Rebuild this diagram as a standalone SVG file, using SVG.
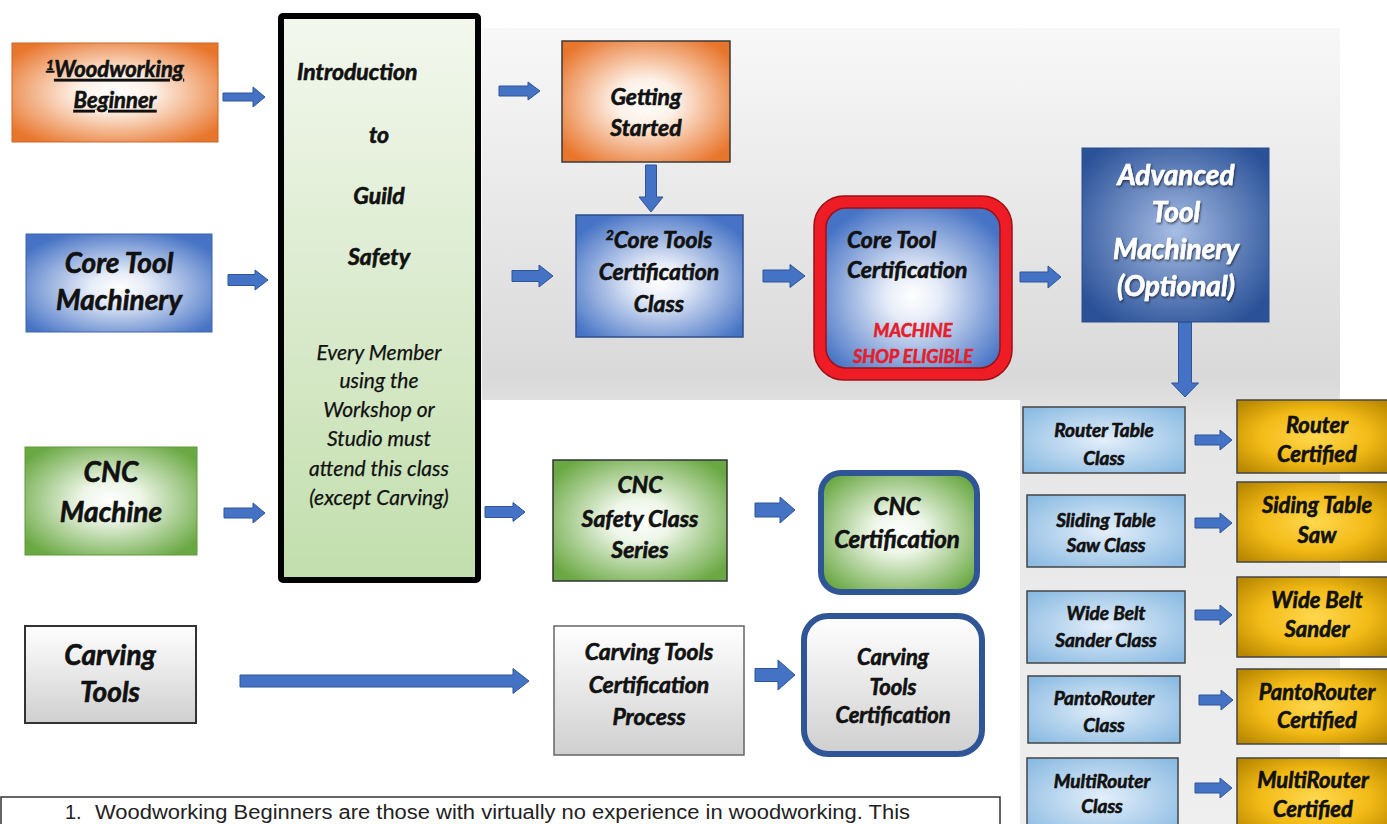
<svg xmlns="http://www.w3.org/2000/svg" width="1387" height="824" viewBox="0 0 1387 824">
<style>
.t{font-family:Lato,'Open Sans','Liberation Sans',sans-serif;font-weight:bold;font-style:italic;fill:#111;stroke:#111;stroke-width:0.6;text-anchor:middle}
.tn{font-family:Lato,'Open Sans','Liberation Sans',sans-serif;font-weight:normal;font-style:italic;fill:#111;stroke:#111;stroke-width:0.25;text-anchor:middle}
.tw{fill:#fff;stroke:#fff}
.tr{fill:#E3202A;stroke:#E3202A}
.arr{fill:#4472C4;stroke:#2F5597;stroke-width:1}
.box{stroke:#444;stroke-width:1.5}
.fn{font-family:'Liberation Sans',Arial,sans-serif;font-size:20px;fill:#222}
</style>
<defs>
<radialGradient id="gOrange" cx="50%" cy="50%" r="62%"><stop offset="0" stop-color="#FFFFFF"/><stop offset="0.3" stop-color="#FDF0E6"/><stop offset="1" stop-color="#E8752C"/></radialGradient>
<radialGradient id="gBlue" cx="50%" cy="55%" r="62%"><stop offset="0" stop-color="#FFFFFF"/><stop offset="0.25" stop-color="#E6ECF8"/><stop offset="1" stop-color="#4673C5"/></radialGradient>
<radialGradient id="gGreen" cx="50%" cy="50%" r="62%"><stop offset="0" stop-color="#FFFFFF"/><stop offset="0.28" stop-color="#EEF6E8"/><stop offset="1" stop-color="#6AA843"/></radialGradient>
<linearGradient id="gGray" x1="0" y1="0" x2="0" y2="1"><stop offset="0" stop-color="#FFFFFF"/><stop offset="1" stop-color="#CFCFCF"/></linearGradient>
<radialGradient id="gAdv" cx="50%" cy="48%" r="62%"><stop offset="0" stop-color="#A7BDE4"/><stop offset="1" stop-color="#2B5298"/></radialGradient>
<radialGradient id="gLB" cx="50%" cy="50%" r="65%"><stop offset="0" stop-color="#E4EFFA"/><stop offset="1" stop-color="#8BBBE2"/></radialGradient>
<radialGradient id="gGold" cx="50%" cy="50%" r="65%"><stop offset="0" stop-color="#FFD84F"/><stop offset="0.55" stop-color="#F2BA16"/><stop offset="1" stop-color="#B88800"/></radialGradient>
<linearGradient id="gIntro" x1="0" y1="0" x2="0" y2="1"><stop offset="0" stop-color="#F3F8EE"/><stop offset="1" stop-color="#C2DEAD"/></linearGradient>
<linearGradient id="gBg" gradientUnits="userSpaceOnUse" x1="0" y1="28" x2="0" y2="824"><stop offset="0" stop-color="#F8F8F8"/><stop offset="0.44" stop-color="#D9D9D9"/><stop offset="0.5" stop-color="#E6E6E6"/><stop offset="1" stop-color="#EFEFEF"/></linearGradient>
<filter id="sh" x="-10%" y="-10%" width="120%" height="130%"><feDropShadow dx="1" dy="1.5" stdDeviation="1" flood-color="#000" flood-opacity="0.6"/></filter>
</defs>

<rect width="1387" height="824" fill="#fff"/>
<path d="M482 28 H1340 V824 H1020 V400 H482 Z" fill="url(#gBg)"/>

<g id="connectors">
<path class="arr" d="M223 93 H253 V87 L265 97 L253 107 V101 H223 Z"/>
<path class="arr" d="M228 274.5 H255 V270 L268 280 L255 290 V285.5 H228 Z"/>
<path class="arr" d="M224 508 H253 V503 L265 513 L253 523 V518 H224 Z"/>
<path class="arr" d="M240 675 H513 V668.5 L529 681 L513 693.5 V687 H240 Z"/>
<path class="arr" d="M499 86 H528 V82 L540 91 L528 100 V96 H499 Z"/>
<path class="arr" d="M512 270.5 H539 V265 L553 276 L539 287 V281.5 H512 Z"/>
<path class="arr" d="M763 270 H790 V264.5 L805 276 L790 287.5 V282 H763 Z"/>
<path class="arr" d="M1020 272 H1048 V266 L1061 277 L1048 288 V282 H1020 Z"/>
<path class="arr" d="M645.5 165 V197 H639 L651 212 L663 197 H656.5 V165 Z"/>
<path class="arr" d="M1178.5 322 V383 H1171.5 L1185 397 L1198.5 383 H1191.5 V322 Z"/>
<path class="arr" d="M485 506.5 H513 V502.5 L525 512 L513 521.5 V517.5 H485 Z"/>
<path class="arr" d="M755 503 H780 V497 L795 510 L780 523 V517 H755 Z"/>
<path class="arr" d="M755 668.5 H778 V660 L795 675 L778 690 V681.5 H755 Z"/>
<path class="arr" d="M1195 435 H1220 V430 L1232 440 L1220 450 V445 H1195 Z"/>
<path class="arr" d="M1195 518 H1220 V513 L1232 523 L1220 533 V528 H1195 Z"/>
<path class="arr" d="M1195 610 H1220 V605 L1232 615 L1220 625 V620 H1195 Z"/>
<path class="arr" d="M1199 695 H1221 V690 L1233 700 L1221 710 V705 H1199 Z"/>
<path class="arr" d="M1195 783 H1220 V778 L1232 788 L1220 798 V793 H1195 Z"/>
</g>

<g id="woodworking-beginner">
<rect x="12" y="43" width="206" height="99" fill="url(#gOrange)" stroke="#C8682A" stroke-width="1"/>
<text class="t" x="115" y="77" font-size="22" text-decoration="underline"><tspan font-size="14" dy="-7">1</tspan><tspan dy="7">Woodworking</tspan></text>
<text class="t" x="115" y="108" font-size="22" text-decoration="underline">Beginner</text>
</g>

<g id="core-tool-machinery">
<rect x="26" y="234" width="186" height="98" fill="url(#gBlue)" stroke="#3C64AE" stroke-width="1"/>
<text class="t" x="119" y="273" font-size="28">Core Tool</text>
<text class="t" x="119" y="310" font-size="28">Machinery</text>
</g>

<g id="cnc-machine">
<rect x="25" y="447" width="172" height="108" fill="url(#gGreen)" stroke="#5E9A3A" stroke-width="1"/>
<text class="t" x="111" y="482" font-size="28">CNC</text>
<text class="t" x="111" y="522" font-size="28">Machine</text>
</g>

<g id="carving-tools">
<rect x="25" y="626" width="171" height="97" fill="url(#gGray)" stroke="#333" stroke-width="2"/>
<text class="t" x="110" y="665" font-size="28">Carving</text>
<text class="t" x="110" y="702" font-size="28">Tools</text>
</g>

<g id="intro-safety">
<rect x="281" y="16" width="197" height="564" rx="2" fill="url(#gIntro)" stroke="#000" stroke-width="6"/>
<text class="t" x="297" y="80" font-size="23" style="text-anchor:start">Introduction</text>
<text class="t" x="379" y="143" font-size="23">to</text>
<text class="t" x="379" y="204" font-size="23">Guild</text>
<text class="t" x="379" y="265" font-size="23">Safety</text>
<text class="tn" x="379" y="360" font-size="21">Every Member</text>
<text class="tn" x="379" y="388" font-size="21">using the</text>
<text class="tn" x="379" y="417" font-size="21">Workshop or</text>
<text class="tn" x="379" y="446" font-size="21">Studio must</text>
<text class="tn" x="379" y="476" font-size="21">attend this class</text>
<text class="tn" x="379" y="505" font-size="21">(except Carving)</text>
</g>

<g id="getting-started">
<rect x="562" y="41" width="168" height="121" fill="url(#gOrange)" stroke="#3a3a3a" stroke-width="1.5"/>
<text class="t" x="646" y="105" font-size="23">Getting</text>
<text class="t" x="646" y="136" font-size="23">Started</text>
</g>

<g id="core-tools-class">
<rect x="576" y="215" width="167" height="122" fill="url(#gBlue)" stroke="#2F4F8A" stroke-width="1.5"/>
<text class="t" x="659" y="248" font-size="23"><tspan font-size="14" dy="-8">2</tspan><tspan dy="8">Core Tools</tspan></text>
<text class="t" x="659" y="280" font-size="23">Certification</text>
<text class="t" x="659" y="312" font-size="23">Class</text>
</g>

<g id="core-tool-certification">
<rect x="814" y="196" width="198" height="184" rx="30" fill="#EE1C24" stroke="#9C1016" stroke-width="1.5"/>
<rect x="826" y="208" width="174" height="160" rx="20" fill="url(#gBlue)" stroke="#9C1016" stroke-width="1.5"/>
<text class="t" x="847" y="248" font-size="23" style="text-anchor:start">Core Tool</text>
<text class="t" x="847" y="278" font-size="23" style="text-anchor:start">Certification</text>
<text class="t tr" x="913" y="337" font-size="18">MACHINE</text>
<text class="t tr" x="913" y="363" font-size="18">SHOP ELIGIBLE</text>
</g>

<g id="advanced-tool-machinery">
<rect x="1082" y="148" width="187" height="174" fill="url(#gAdv)" stroke="#2A4C8C" stroke-width="1"/>
<g filter="url(#sh)">
<text class="t tw" x="1176" y="185" font-size="28">Advanced</text>
<text class="t tw" x="1176" y="222" font-size="28">Tool</text>
<text class="t tw" x="1176" y="259" font-size="28">Machinery</text>
<text class="t tw" x="1176" y="296" font-size="28">(Optional)</text>
</g>
</g>

<g id="cnc-safety-class">
<rect x="553" y="460" width="174" height="121" fill="url(#gGreen)" stroke="#333" stroke-width="1.5"/>
<text class="t" x="640" y="493" font-size="23">CNC</text>
<text class="t" x="640" y="527" font-size="23">Safety Class</text>
<text class="t" x="640" y="558" font-size="23">Series</text>
</g>

<g id="cnc-certification">
<rect x="821" y="473" width="156" height="119" rx="20" fill="url(#gGreen)" stroke="#2F5597" stroke-width="6"/>
<text class="t" x="897" y="515" font-size="24">CNC</text>
<text class="t" x="897" y="548" font-size="24">Certification</text>
</g>

<g id="carving-process">
<rect x="554" y="626" width="190" height="129" fill="url(#gGray)" stroke="#666" stroke-width="1.5"/>
<text class="t" x="649" y="660" font-size="23">Carving Tools</text>
<text class="t" x="649" y="693" font-size="23">Certification</text>
<text class="t" x="649" y="725" font-size="23">Process</text>
</g>

<g id="carving-certification">
<rect x="804" y="616" width="178" height="138" rx="24" fill="url(#gGray)" stroke="#2F5597" stroke-width="6"/>
<text class="t" x="893" y="665" font-size="22">Carving</text>
<text class="t" x="893" y="695" font-size="22">Tools</text>
<text class="t" x="893" y="723" font-size="22">Certification</text>
</g>

<g id="router-table-class">
<rect class="box" x="1023" y="407" width="162" height="66" fill="url(#gLB)"/>
<text class="t" x="1104" y="437" font-size="19">Router Table</text>
<text class="t" x="1104" y="465" font-size="19">Class</text>
</g>
<g id="router-certified">
<rect class="box" x="1237" y="400" width="155" height="73" fill="url(#gGold)"/>
<text class="t" x="1317" y="433" font-size="22">Router</text>
<text class="t" x="1317" y="462" font-size="22">Certified</text>
</g>

<g id="sliding-table-class">
<rect class="box" x="1027" y="495" width="158" height="72" fill="url(#gLB)"/>
<text class="t" x="1106" y="527" font-size="19">Sliding Table</text>
<text class="t" x="1106" y="552" font-size="19">Saw Class</text>
</g>
<g id="sliding-table-certified">
<rect class="box" x="1237" y="482" width="155" height="80" fill="url(#gGold)"/>
<text class="t" x="1317" y="513" font-size="22">Siding Table</text>
<text class="t" x="1317" y="543" font-size="22">Saw</text>
</g>

<g id="wide-belt-class">
<rect class="box" x="1027" y="591" width="158" height="72" fill="url(#gLB)"/>
<text class="t" x="1106" y="620" font-size="19">Wide Belt</text>
<text class="t" x="1106" y="647" font-size="19">Sander Class</text>
</g>
<g id="wide-belt-certified">
<rect class="box" x="1237" y="577" width="155" height="80" fill="url(#gGold)"/>
<text class="t" x="1317" y="608" font-size="22">Wide Belt</text>
<text class="t" x="1317" y="637" font-size="22">Sander</text>
</g>

<g id="pantorouter-class">
<rect class="box" x="1028" y="676" width="152" height="67" fill="url(#gLB)"/>
<text class="t" x="1104" y="705" font-size="19">PantoRouter</text>
<text class="t" x="1104" y="732" font-size="19">Class</text>
</g>
<g id="pantorouter-certified">
<rect class="box" x="1237" y="669" width="155" height="75" fill="url(#gGold)"/>
<text class="t" x="1317" y="700" font-size="22">PantoRouter</text>
<text class="t" x="1317" y="728" font-size="22">Certified</text>
</g>

<g id="multirouter-class">
<rect class="box" x="1027" y="758" width="151" height="80" fill="url(#gLB)"/>
<text class="t" x="1102" y="788" font-size="19">MultiRouter</text>
<text class="t" x="1102" y="813" font-size="19">Class</text>
</g>
<g id="multirouter-certified">
<rect class="box" x="1237" y="758" width="155" height="80" fill="url(#gGold)"/>
<text class="t" x="1313" y="788" font-size="22">MultiRouter</text>
<text class="t" x="1313" y="817" font-size="22">Certified</text>
</g>

<g id="footnote">
<rect x="1" y="797" width="999" height="40" fill="#fff" stroke="#333" stroke-width="1.5"/>
<text class="fn" x="65" y="819">1.</text>
<text class="fn" x="95" y="819" textLength="815" lengthAdjust="spacingAndGlyphs">Woodworking Beginners are those with virtually no experience in woodworking.  This</text>
</g>
</svg>
